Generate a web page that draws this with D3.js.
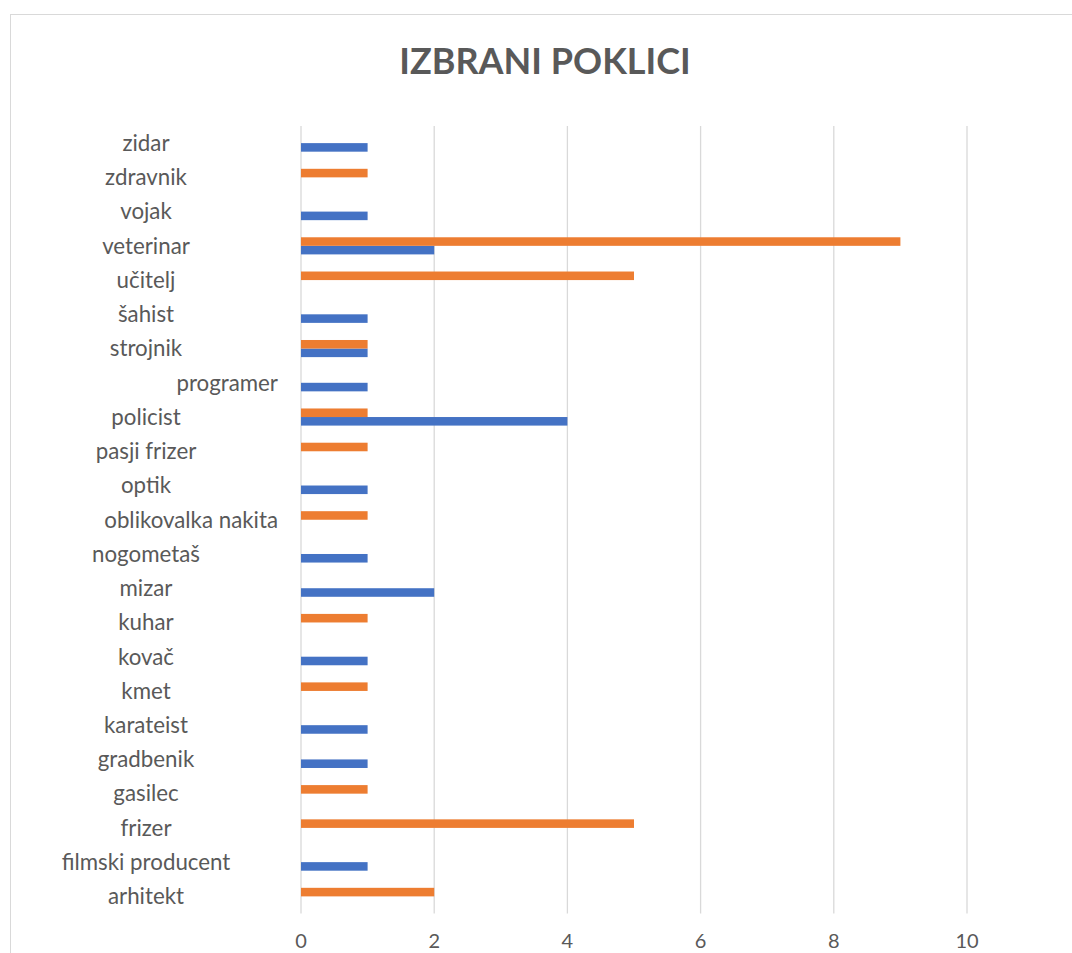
<!DOCTYPE html>
<html>
<head>
<meta charset="utf-8">
<script src="https://cdn.jsdelivr.net/npm/d3@7"></script>
<style>
  body { margin: 0; background: #fff; }
  text { font-family: Lato, "Open Sans", sans-serif; fill: #595959; }
</style>
</head>
<body>
<svg id="chart" width="1072" height="953"></svg>
<script>
// categories as listed in the sheet (bottom of chart to top)
const categories = [
  "arhitekt", "filmski producent", "frizer", "gasilec", "gradbenik", "karateist",
  "kmet", "kovač", "kuhar", "mizar", "nogometaš", "oblikovalka nakita", "optik",
  "pasji frizer", "policist", "programer", "strojnik", "šahist",
  "učitelj", "veterinar", "vojak", "zdravnik", "zidar"
];

const seriesNames = ["Serija 1", "Serija 2"];
const series1 = [0, 1, 0, 0, 1, 1, 0, 1, 0, 2, 1, 0, 1, 0, 4, 1, 1, 1, 0, 2, 1, 0, 1];
const series2 = [2, 0, 5, 1, 0, 0, 1, 0, 1, 0, 0, 1, 0, 1, 1, 0, 1, 0, 5, 9, 0, 1, 0];
const xTicks = [0, 2, 4, 6, 8, 10];
const colors = ["#4472C4", "#ED7D31"];

// these two had leading spaces in the sheet, so Excel pushed them against the axis
const pushedRight = ["oblikovalka nakita", "programer"];

const svg = d3.select("#chart");

// chart border (right and bottom are cut off in the picture)
svg.append("rect")
  .attr("x", 10.5).attr("y", 14.5)
  .attr("width", 1200).attr("height", 1200)
  .attr("fill", "none")
  .attr("stroke", "#d9d9d9");

svg.append("text")
  .attr("x", 545).attr("y", 74)
  .attr("text-anchor", "middle")
  .style("font-size", "36px")
  .style("font-weight", "bold")
  .text("IZBRANI POKLICI");

const plotTop = 126, plotBottom = 913.5;

const x = d3.scaleLinear().domain([0, 10]).range([301, 967]);
const y = d3.scaleBand()
  .domain(categories.slice().reverse())
  .range([plotTop, plotBottom])
  .paddingInner(0.5)
  .paddingOuter(0.25);
// series 2 sits above series 1 inside each category
const ySub = d3.scaleBand().domain([1, 0]).range([0, y.bandwidth()]);

// gridlines
svg.append("g")
  .selectAll("line")
  .data(xTicks)
  .join("line")
    .attr("x1", d => x(d)).attr("x2", d => x(d))
    .attr("y1", plotTop).attr("y2", plotBottom)
    .attr("stroke", "#d9d9d9")
    .attr("stroke-width", 1.3);

// x tick labels
svg.append("g")
  .selectAll("text")
  .data(xTicks)
  .join("text")
    .attr("x", d => x(d))
    .attr("y", 948)
    .attr("text-anchor", "middle")
    .style("font-size", "20px")
    .text(d => d);

// bars
const rows = [];
categories.forEach(function(c, i) {
  [series1[i], series2[i]].forEach(function(v, s) {
    if (v) rows.push({cat: c, s: s, v: v});
  });
});

svg.append("g")
  .selectAll("rect")
  .data(rows)
  .join("rect")
    .attr("x", x(0))
    .attr("y", d => y(d.cat) + ySub(d.s))
    .attr("width", d => x(d.v) - x(0))
    .attr("height", ySub.bandwidth())
    .attr("fill", d => colors[d.s]);

// category labels, centred in the label area
const labelLeft = 14, labelRight = 278;
svg.append("g")
  .selectAll("text")
  .data(categories)
  .join("text")
    .attr("x", d => pushedRight.includes(d) ? labelRight : (labelLeft + labelRight) / 2)
    .attr("y", d => y(d) + y.bandwidth() / 2)
    .attr("dy", "0.35em")
    .attr("text-anchor", d => pushedRight.includes(d) ? "end" : "middle")
    .style("font-size", "22.3px")
    .text(d => d);
</script>
</body>
</html>
